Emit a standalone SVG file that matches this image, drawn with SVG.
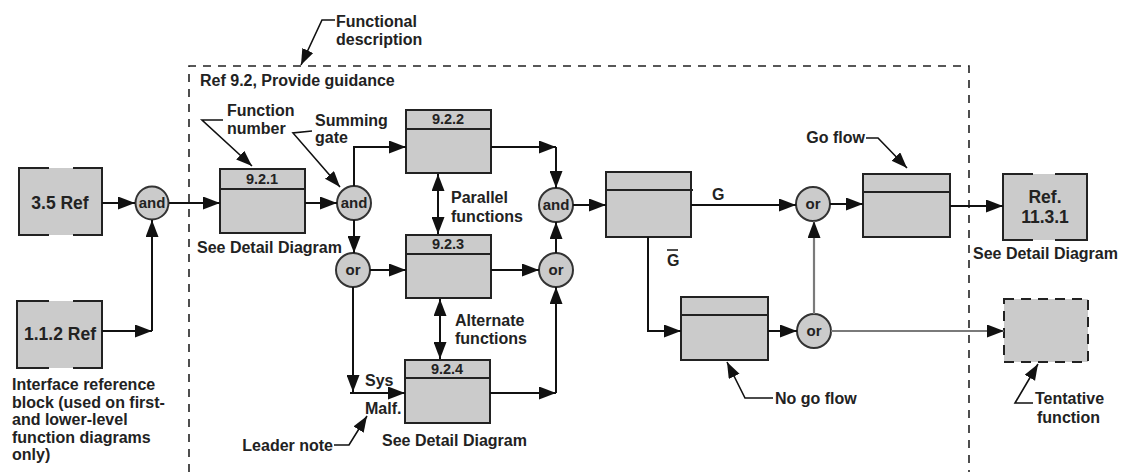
<svg xmlns="http://www.w3.org/2000/svg" width="1124" height="472" viewBox="0 0 1124 472">
<defs>
<marker id="ah" markerUnits="userSpaceOnUse" markerWidth="18" markerHeight="13" refX="17" refY="6.5" orient="auto-start-reverse" viewBox="0 0 18 13">
<path d="M0,0 L17,6.5 L0,13 z" fill="#111"/>
</marker>
<marker id="ahs" markerUnits="userSpaceOnUse" markerWidth="17" markerHeight="13" refX="16" refY="6" orient="auto" viewBox="0 0 17 13">
<path d="M0,0 L16,6 L0,12 z" fill="#111"/>
</marker>
</defs>
<style>
text{font-family:"Liberation Sans",Arial,sans-serif;font-weight:bold;fill:#222;}
.lbl{font-size:16px;}
.gate{font-size:15px;text-anchor:middle;}
.num{font-size:14.5px;text-anchor:middle;}
.ref{font-size:17.5px;text-anchor:middle;}
.box{fill:#cbcbcb;stroke:#222;stroke-width:2;}
.div{stroke:#222;stroke-width:2;fill:none;}
.gc{fill:#cbcbcb;stroke:#333;stroke-width:2;}
.c{fill:none;stroke:#111;stroke-width:2;marker-end:url(#ah);}
.g{fill:none;stroke:#7a7a7a;stroke-width:2.2;marker-end:url(#ah);}
.d{fill:none;stroke:#111;stroke-width:2;marker-start:url(#ah);marker-end:url(#ah);}
.ld{fill:none;stroke:#111;stroke-width:1.6;marker-end:url(#ahs);}
.frame{fill:none;stroke:#222;stroke-width:1.6;stroke-dasharray:8 7;}
</style>
<rect width="1124" height="472" fill="#fff"/>

<path class="frame" d="M189,472 L189,66 L969,66 L969,472"/>

<g id="frame-title">
<text class="lbl" x="200" y="86">Ref 9.2, Provide guidance</text>
</g>

<g id="ref-3-5">
<rect x="19" y="168" width="83" height="67" fill="#cbcbcb"/>
<path class="div" d="M49,168 L19,168 L19,235 L49,235 M73,168 L102,168 L102,235 L73,235"/>
<text class="ref" x="60" y="209">3.5 Ref</text>
</g>

<g id="ref-1-1-2">
<rect x="17" y="301" width="85" height="67" fill="#cbcbcb"/>
<path class="div" d="M49,301 L17,301 L17,368 L49,368 M73,301 L102,301 L102,368 L73,368"/>
<text class="ref" x="60" y="340">1.1.2 Ref</text>
</g>

<g id="note-interface">
<text class="lbl" x="12" y="390">Interface reference</text>
<text class="lbl" x="12" y="408">block (used on first-</text>
<text class="lbl" x="12" y="425">and lower-level</text>
<text class="lbl" x="12" y="443">function diagrams</text>
<text class="lbl" x="12" y="460">only)</text>
</g>

<g id="gate-and1">
<circle class="gc" cx="152" cy="203" r="16.5"/>
<text class="gate" x="152" y="208">and</text>
</g>

<g id="f-9-2-1">
<rect class="box" x="220" y="169" width="85" height="64"/>
<line class="div" x1="220" y1="189" x2="305" y2="189"/>
<text class="num" x="262" y="184">9.2.1</text>
<text class="lbl" x="197" y="253">See Detail Diagram</text>
</g>

<g id="gate-and2">
<circle class="gc" cx="354" cy="203" r="17"/>
<text class="gate" x="354" y="208">and</text>
</g>

<g id="gate-or1">
<circle class="gc" cx="353" cy="270" r="17"/>
<text class="gate" x="353" y="275">or</text>
</g>

<g id="f-9-2-2">
<rect class="box" x="406" y="110" width="85" height="63"/>
<line class="div" x1="406" y1="129" x2="491" y2="129"/>
<text class="num" x="448" y="124">9.2.2</text>
</g>

<g id="f-9-2-3">
<rect class="box" x="406" y="235" width="85" height="63"/>
<line class="div" x1="406" y1="254" x2="491" y2="254"/>
<text class="num" x="448" y="249">9.2.3</text>
</g>

<g id="f-9-2-4">
<rect class="box" x="405" y="360" width="85" height="63"/>
<line class="div" x1="405" y1="378" x2="490" y2="378"/>
<text class="num" x="447" y="374">9.2.4</text>
<text class="lbl" x="382" y="446">See Detail Diagram</text>
</g>

<g id="gate-and3">
<circle class="gc" cx="556" cy="205" r="17"/>
<text class="gate" x="556" y="210">and</text>
</g>

<g id="gate-or2">
<circle class="gc" cx="556" cy="270" r="17"/>
<text class="gate" x="556" y="275">or</text>
</g>

<g id="f-decision">
<rect class="box" x="606" y="172" width="85" height="65"/>
<line class="div" x1="606" y1="190" x2="693" y2="190"/>
</g>

<g id="gate-or3">
<circle class="gc" cx="813" cy="204" r="17"/>
<text class="gate" x="813" y="209">or</text>
</g>

<g id="f-go">
<rect class="box" x="863" y="174" width="87" height="63"/>
<line class="div" x1="863" y1="192" x2="950" y2="192"/>
</g>

<g id="f-nogo">
<rect class="box" x="681" y="297" width="87" height="63"/>
<line class="div" x1="681" y1="315" x2="768" y2="315"/>
</g>

<g id="gate-or4">
<circle class="gc" cx="814" cy="331" r="17"/>
<text class="gate" x="814" y="336">or</text>
</g>

<g id="ref-11-3-1">
<rect x="1003" y="174" width="84" height="66" fill="#cbcbcb"/>
<path class="div" d="M1033,174 L1003,174 L1003,240 L1033,240 M1055,174 L1087,174 L1087,240 L1055,240"/>
<text class="ref" x="1045" y="203">Ref.</text>
<text class="ref" x="1045" y="223">11.3.1</text>
<text class="lbl" x="973" y="259">See Detail Diagram</text>
</g>

<g id="f-tentative">
<rect x="1004" y="299" width="84" height="63" fill="#cbcbcb" stroke="#222" stroke-width="2" stroke-dasharray="10 7"/>
</g>

<g id="connectors">
<path class="c" d="M102,203 L135,203"/>
<path class="c" d="M102,331 L152,331"/>
<path class="c" d="M152,331 L152,220"/>
<path class="c" d="M169,203 L220,203"/>
<path class="c" d="M305,203 L337,203"/>
<path class="c" d="M354,186 L354,147 L406,147"/>
<path class="c" d="M354,220 L354,253"/>
<path class="c" d="M370,270 L406,270"/>
<path class="c" d="M353,287 L353,392"/>
<path class="c" d="M350,393 L405,393"/>
<path class="c" d="M491,147 L556,147"/>
<path class="c" d="M556,147 L556,188"/>
<path class="c" d="M491,270 L539,270"/>
<path class="c" d="M556,253 L556,222"/>
<path class="c" d="M490,393 L556,393"/>
<path class="c" d="M556,393 L556,287"/>
<path class="c" d="M573,205 L606,205"/>
<path class="d" d="M438,174 L438,234"/>
<path class="d" d="M440,299 L440,359"/>
<path class="c" d="M691,205 L796,205"/>
<path class="c" d="M830,204 L863,204"/>
<path class="c" d="M648,237 L648,331 L681,331"/>
<path class="c" d="M768,331 L797,331"/>
<path class="g" d="M814,314 L814,221"/>
<path class="g" d="M831,331 L1004,331"/>
<path class="c" d="M950,206 L1003,206"/>
</g>

<g id="labels">
<text class="lbl" x="336" y="27">Functional</text>
<text class="lbl" x="336" y="45">description</text>
<text class="lbl" x="227" y="116">Function</text>
<text class="lbl" x="227" y="134">number</text>
<text class="lbl" x="315" y="126">Summing</text>
<text class="lbl" x="315" y="143">gate</text>
<text class="lbl" x="451" y="203">Parallel</text>
<text class="lbl" x="451" y="222">functions</text>
<text class="lbl" x="455" y="326">Alternate</text>
<text class="lbl" x="455" y="344">functions</text>
<text class="lbl" x="365" y="386">Sys</text>
<text class="lbl" x="365" y="414">Malf.</text>
<text class="lbl" x="333" y="451" text-anchor="end">Leader note</text>
<text class="lbl" x="712" y="200" font-size="15">G</text>
<text class="lbl" x="667" y="266" font-size="15">G</text>
<line x1="667" y1="250" x2="678" y2="250" stroke="#222" stroke-width="1.6"/>
<text class="lbl" x="865" y="143" text-anchor="end">Go flow</text>
<text class="lbl" x="775" y="404">No go flow</text>
<text class="lbl" x="1035" y="404">Tentative</text>
<text class="lbl" x="1037" y="423">function</text>
</g>

<g id="leaders">
<path class="ld" d="M335,20 L322,20 L301,65"/>
<path class="ld" d="M223,120 L202,120 L252,166"/>
<path class="ld" d="M312,131 L293,133 L340,187"/>
<path class="ld" d="M334,445 L349,445 L367,416"/>
<path class="ld" d="M866,138 L878,138 L907,168"/>
<path class="ld" d="M773,398 L745,398 L727,362"/>
<path class="ld" d="M1033,403 L1015,403 L1038,364"/>
</g>
</svg>
